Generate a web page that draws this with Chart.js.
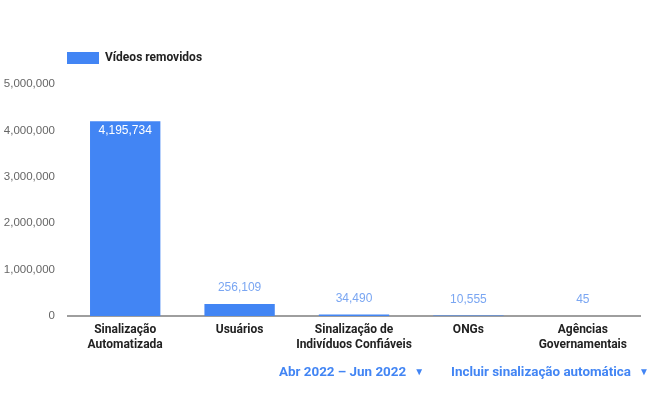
<!DOCTYPE html>
<html><head><meta charset="utf-8">
<script src="https://cdn.jsdelivr.net/npm/chart.js@4/dist/chart.umd.min.js"></script>
<style>
html,body{margin:0;padding:0;background:#fff;}
#wrap{position:relative;width:650px;height:403px;overflow:hidden;}
canvas{position:absolute;left:0;top:0;}
.ctl{position:absolute;top:364px;font-family:Roboto,"Open Sans",sans-serif;font-weight:bold;font-size:13.4px;color:#4285f4;white-space:nowrap;}
.ctl span{font-size:10px;margin-left:8px;position:relative;top:-1px;}
</style></head>
<body>
<div id="wrap">
<canvas id="c" width="650" height="403"></canvas>
<div class="ctl" style="left:279px;">Abr 2022 – Jun 2022<span>&#9660;</span></div>
<div class="ctl" style="left:451px;">Incluir sinalização automática<span>&#9660;</span></div>
</div>
<script>
const categories = [["Sinalização","Automatizada"],["Usuários"],["Sinalização de","Indivíduos Confiáveis"],["ONGs"],["Agências","Governamentais"]];
const seriesName = "Vídeos removidos";
const values = [4195734, 256109, 34490, 10555, 45];
const yTicks = [0, 1000000, 2000000, 3000000, 4000000, 5000000];

const fmt = v => v.toLocaleString('en-US');

const valueLabels = {
  id: 'valueLabels',
  afterDatasetsDraw(chart) {
    const ctx = chart.ctx;
    const meta = chart.getDatasetMeta(0);
    ctx.save();
    ctx.font = '12px "Liberation Sans", Arial, sans-serif';
    ctx.textAlign = 'center';
    ctx.textBaseline = 'middle';
    meta.data.forEach((bar, i) => {
      const h = bar.base - bar.y;
      if (h > 30) {
        ctx.fillStyle = '#ffffff';
        ctx.fillText(fmt(values[i]), bar.x, bar.y + 9);
      } else {
        ctx.fillStyle = '#7aa6f2';
        ctx.fillText(fmt(values[i]), bar.x, bar.y - 16);
      }
    });
    ctx.restore();
  }
};

const legendShift = {
  id: 'legendShift',
  beforeDraw(chart) {
    const lg = chart.legend;
    if (lg && !lg._shifted) {
      lg.left = 57;
      lg.top -= 10;
      lg.bottom -= 10;
      lg._shifted = true;
    }
  }
};

new Chart(document.getElementById('c'), {
  type: 'bar',
  data: {
    labels: categories,
    datasets: [{
      label: seriesName,
      data: values,
      backgroundColor: '#4285f4',
      borderWidth: 0,
      categoryPercentage: 1,
      barPercentage: 0.615
    }]
  },
  options: {
    responsive: false,
    animation: false,
    devicePixelRatio: 1,
    layout: { padding: { left: 0, right: 10, top: 52, bottom: 0 } },
    plugins: {
      legend: {
        display: true,
        position: 'top',
        align: 'start',
        labels: {
          boxWidth: 32, boxHeight: 12,
          color: '#222222',
          font: { family: 'Roboto, "Open Sans", sans-serif', size: 12, weight: 'bold' }
        }
      },
      tooltip: { enabled: false }
    },
    scales: {
      x: {
        grid: { display: false, drawTicks: false },
        border: { display: true, color: '#9e9e9e', width: 2 },
        ticks: {
          color: '#222222',
          padding: 6,
          maxRotation: 0,
          autoSkip: false,
          font: { family: 'Roboto, "Open Sans", sans-serif', size: 12, weight: 'bold', lineHeight: 1.3 }
        },
        afterFit(scale) { scale.height = 87; }
      },
      y: {
        min: 0, max: 5000000,
        afterBuildTicks(scale) { scale.ticks = yTicks.map(v => ({ value: v })); },
        grid: { display: false, drawTicks: false },
        border: { display: false },
        ticks: {
          color: '#666666',
          padding: 13,
          font: { family: '"Liberation Sans", Arial, sans-serif', size: 11.5 },
          callback: v => fmt(v)
        },
        afterFit(scale) { scale.width = 68; }
      }
    }
  },
  plugins: [valueLabels, legendShift]
});
</script>
</body></html>
